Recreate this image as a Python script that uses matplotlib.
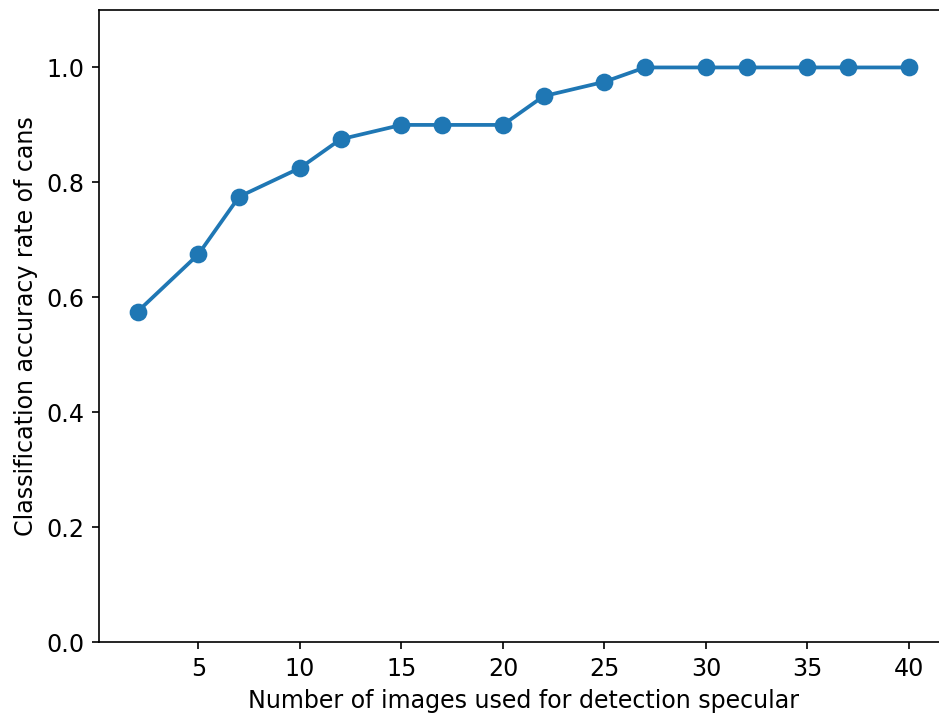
import matplotlib.pyplot as plt

num_images = [2, 5, 7, 10, 12, 15, 17, 20, 22, 25, 27, 30, 32, 35, 37, 40]
accuracy = [0.575, 0.675, 0.775, 0.825, 0.875, 0.9, 0.9, 0.9, 0.95, 0.975,
            1.0, 1.0, 1.0, 1.0, 1.0, 1.0]

plt.rcParams['font.size'] = 11.4

fig = plt.figure(figsize=(939 / 150, 719 / 150), dpi=150)
# right spine falls just outside the canvas, as in the original
ax = fig.add_axes([99 / 939, 77 / 719, 848.5 / 939, 632 / 719])

ax.plot(num_images, accuracy, marker='o', markersize=7.5, linewidth=1.8)
ax.set_ylim(0, 1.1)
ax.set_xlabel('Number of images used for detection specular')
ax.set_ylabel('Classification accuracy rate of cans')

fig.savefig('out.png', dpi=150)
